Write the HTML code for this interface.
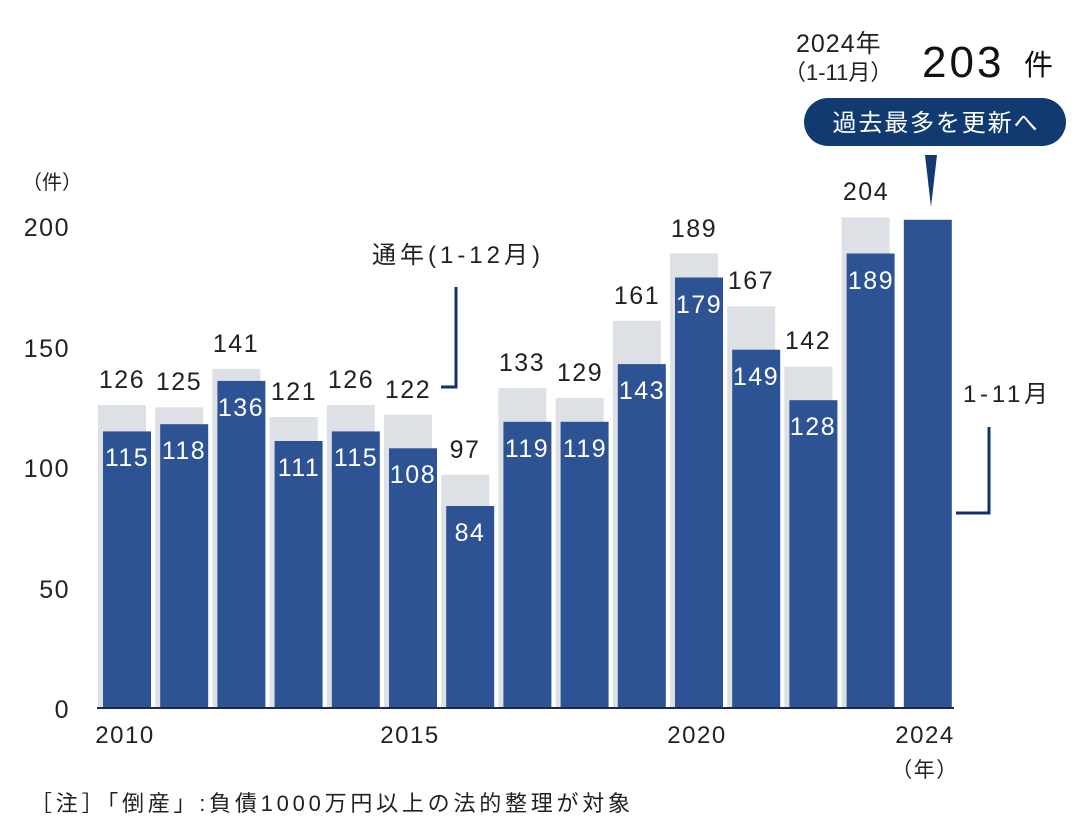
<!DOCTYPE html>
<html><head><meta charset="utf-8"><style>body{margin:0;background:#fff}svg{display:block}text{font-family:"Liberation Sans","Noto Sans CJK JP",sans-serif}</style></head><body>
<svg width="1080" height="837" viewBox="0 0 1080 837">
<g fill="#dde0e4">
<rect x="98" y="405" width="48" height="303"/>
<rect x="155.2" y="407.4" width="48" height="300.6"/>
<rect x="212.4" y="368.9" width="48" height="339.1"/>
<rect x="269.6" y="417" width="48" height="291"/>
<rect x="326.8" y="405" width="48" height="303"/>
<rect x="384" y="414.6" width="48" height="293.4"/>
<rect x="441.2" y="474.7" width="48" height="233.3"/>
<rect x="498.4" y="388.1" width="48" height="319.9"/>
<rect x="555.6" y="397.8" width="48" height="310.2"/>
<rect x="612.8" y="320.8" width="48" height="387.2"/>
<rect x="670" y="253.5" width="48" height="454.5"/>
<rect x="727.2" y="306.4" width="48" height="401.6"/>
<rect x="784.4" y="366.5" width="48" height="341.5"/>
<rect x="841.6" y="217.4" width="48" height="490.6"/>
</g>
<g fill="#2e5395">
<rect x="103" y="431.4" width="48" height="276.6"/>
<rect x="160.2" y="424.2" width="48" height="283.8"/>
<rect x="217.4" y="380.9" width="48" height="327.1"/>
<rect x="274.6" y="441" width="48" height="267"/>
<rect x="331.8" y="431.4" width="48" height="276.6"/>
<rect x="389" y="448.3" width="48" height="259.7"/>
<rect x="446.2" y="506" width="48" height="202"/>
<rect x="503.4" y="421.8" width="48" height="286.2"/>
<rect x="560.6" y="421.8" width="48" height="286.2"/>
<rect x="617.8" y="364.1" width="48" height="343.9"/>
<rect x="675" y="277.5" width="48" height="430.5"/>
<rect x="732.2" y="349.7" width="48" height="358.3"/>
<rect x="789.4" y="400.2" width="48" height="307.8"/>
<rect x="846.6" y="253.5" width="48" height="454.5"/>
<rect x="903.8" y="219.8" width="48" height="488.2"/>
</g>
<g font-size="25" fill="#222" text-anchor="middle" letter-spacing="1.5">
<text x="122" y="388">126</text>
<text x="179" y="390">125</text>
<text x="236" y="352">141</text>
<text x="294" y="400">121</text>
<text x="351" y="388">126</text>
<text x="408" y="398">122</text>
<text x="465" y="458">97</text>
<text x="522" y="371">133</text>
<text x="580" y="381">129</text>
<text x="637" y="304">161</text>
<text x="694" y="237">189</text>
<text x="751" y="289">167</text>
<text x="808" y="349">142</text>
<text x="866" y="200">204</text>
</g>
<g font-size="25" fill="#fff" text-anchor="middle" letter-spacing="1.5">
<text x="127" y="466">115</text>
<text x="184" y="459">118</text>
<text x="241" y="416">136</text>
<text x="299" y="476">111</text>
<text x="356" y="466">115</text>
<text x="413" y="483">108</text>
<text x="470" y="541">84</text>
<text x="527" y="457">119</text>
<text x="585" y="457">119</text>
<text x="642" y="399">143</text>
<text x="699" y="313">179</text>
<text x="756" y="385">149</text>
<text x="813" y="435">128</text>
<text x="871" y="289">189</text>
</g>
<line x1="97" y1="708" x2="954" y2="708" stroke="#1b2a4a" stroke-width="2"/>
<g font-size="25" fill="#222" text-anchor="end" letter-spacing="1.5">
<text x="70" y="236">200</text><text x="70" y="357">150</text><text x="70" y="477">100</text><text x="70" y="598">50</text><text x="70" y="718">0</text>
</g>
<text x="22" y="189" font-size="20" fill="#222">（件）</text>
<g font-size="24" fill="#222" text-anchor="middle" letter-spacing="1.5">
<text x="125" y="743">2010</text><text x="410" y="743">2015</text><text x="697" y="743">2020</text><text x="925" y="743">2024</text>
<text x="925" y="777" font-size="21">（年）</text>
</g>
<text x="372" y="263" font-size="24" fill="#222" textLength="168">通年(1-12月)</text>
<polyline points="456,287 456,387 441,387" fill="none" stroke="#12316b" stroke-width="3"/>
<text x="963" y="402" font-size="24" fill="#222" textLength="85">1-11月</text>
<polyline points="989,427 989,513 956,513" fill="none" stroke="#12316b" stroke-width="3"/>
<text x="796" y="52" font-size="25" fill="#222" letter-spacing="1">2024年</text>
<text x="784" y="80" font-size="22" fill="#222">（1-11月）</text>
<text x="922" y="77" font-size="44" fill="#111" letter-spacing="3">203</text>
<text x="1024" y="75" font-size="29" fill="#111">件</text>
<rect x="804" y="98" width="262" height="48" rx="24" fill="#103a70"/>
<text x="935" y="131" font-size="24" fill="#fff" text-anchor="middle" textLength="205">過去最多を更新へ</text>
<polygon points="925,155 937,155 931,207" fill="#103a70"/>
<text x="30" y="811" font-size="22" fill="#222" textLength="600">［注］「倒産」:負債1000万円以上の法的整理が対象</text>
</svg>
</body></html>
